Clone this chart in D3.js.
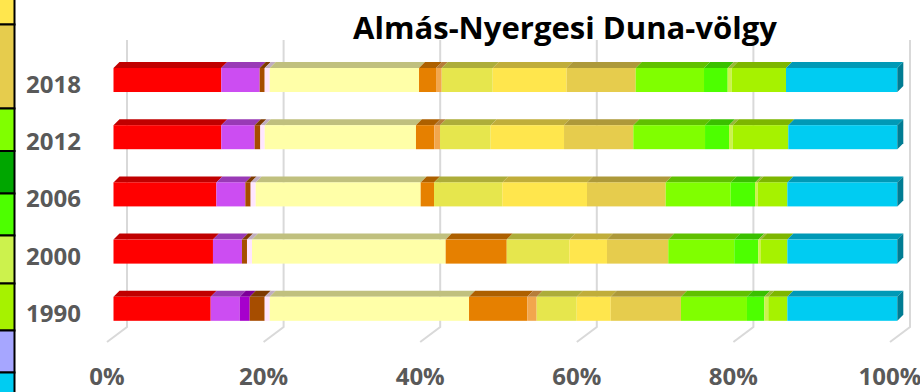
<!DOCTYPE html>
<html><head><meta charset="utf-8">
<script src="https://cdn.jsdelivr.net/npm/d3@7"></script>
<style>html,body{margin:0;padding:0;background:#fff;overflow:hidden}svg{display:block}</style>
</head><body><svg id="c" width="920" height="392"></svg>
<script>
const title = "Almás-Nyergesi Duna-völgy";
const years = ["2018","2012","2006","2000","1990"];
const categories = ["112","121","131","132","142","211","221","222","231","242","243","311","313","321","324","511"];
const colors = ["#FF0000","#CC4DF2","#A600CC","#A64D00","#FFE6FF","#FFFFA8","#E68000","#F2A64D","#E6E64D","#FFE64D","#E6CC4D","#80FF00","#4DFF00","#CCF24D","#A6F200","#00CCF2"];
const v2018 = [13.75,4.90,0,0.64,0.64,19.05,2.17,0.72,6.51,9.44,8.80,8.72,3.02,0.51,6.93,14.20];
const v2012 = [13.75,4.26,0,0.72,0.56,19.30,2.34,0.73,6.46,9.36,8.84,9.15,3.06,0.47,7.09,13.91];
const v2006 = [13.12,3.70,0,0.68,0.64,21.05,1.70,0,8.71,10.81,10.04,8.29,3.11,0.34,3.78,14.03];
const v2000 = [12.69,3.70,0,0.64,0.64,24.71,7.79,0,7.98,4.81,7.82,8.42,3.07,0.34,3.36,14.03];
const v1990 = [12.40,3.70,1.28,1.91,0.64,25.43,7.43,1.20,5.11,4.34,8.96,8.42,2.21,0.51,2.43,14.03];
const tickValues = [0,0.2,0.4,0.6,0.8,1];
const legendColors = ["#FFE64D","#E6CC4D","#80FF00","#00A600","#4DFF00","#CCF24D","#A6F200","#A6A6FF","#00CCF2"];

const valuesByYear = {"2018":v2018,"2012":v2012,"2006":v2006,"2000":v2000,"1990":v1990};
const table = years.map(y => {
  const o = {year:y};
  categories.forEach((c,i)=> o[c] = valuesByYear[y][i]);
  return o;
});
const stacked = d3.stack().keys(categories).offset(d3.stackOffsetExpand)(table);

const svg = d3.select("#c");
const W = 920, H = 392;

// layout
const x = d3.scaleLinear().domain([0,1]).range([113.5, 897.3]);      // bar front faces
const xBack = d3.scaleLinear().domain([0,1]).range([127, 910]);      // back wall
const xFloor = d3.scaleLinear().domain([0,1]).range([107, 890]);     // floor front edge
const y = d3.scaleBand().domain(years).range([51.4, 337.4]).paddingInner(0.58).paddingOuter(0.29);
const dx = 6, dy = -6;
const color = d3.scaleOrdinal().domain(categories).range(colors);

// legend strip (clipped legend at left edge)
const legendEdges = [-20, 24.5, 108.5, 151, 193.5, 235.5, 283.5, 330.5, 372.5, 420];
svg.append("g").selectAll("rect").data(legendColors).join("rect")
  .attr("x", -10).attr("width", 24.5)
  .attr("y", (d,i)=>legendEdges[i]).attr("height",(d,i)=>legendEdges[i+1]-legendEdges[i])
  .attr("fill", d=>d).attr("stroke","#000").attr("stroke-width",2);

// gridlines
const grid = svg.append("g");
grid.selectAll("path").data(tickValues).join("path")
  .attr("d", t => `M${xBack(t)},40 L${xBack(t)},327 L${xFloor(t)},342`)
  .attr("fill","none").attr("stroke","#D9D9D9").attr("stroke-width",2);

// bars
const bars = svg.append("g");
stacked.forEach((layer, li) => {
  const base = d3.color(color(layer.key));
  const top = base.darker(0.8).formatHex();
  const side = base.darker(1.4).formatHex();
  layer.forEach(d => {
    const yr = d.data.year;
    const x0 = x(d[0]), x1 = x(d[1]);
    if (x1 - x0 <= 0.01) return;
    const yt = y(yr), h = y.bandwidth();
    bars.append("path")
      .attr("d", `M${x0},${yt} L${x1},${yt} L${x1+dx},${yt+dy} L${x0+dx},${yt+dy} Z`)
      .attr("fill", top);
    bars.append("rect").attr("x", x0).attr("y", yt).attr("width", x1-x0).attr("height", h)
      .attr("fill", base.formatHex());
    if (li === stacked.length-1) {
      bars.append("path")
        .attr("d", `M${x1},${yt} L${x1+dx},${yt+dy} L${x1+dx},${yt+h+dy} L${x1},${yt+h} Z`)
        .attr("fill", side);
    }
  });
});

// y labels
svg.append("g").selectAll("text").data(years).join("text")
  .attr("x", 81).attr("y", d => y(d) + y.bandwidth()/2 + 13)
  .attr("text-anchor","end")
  .attr("font-family","'Open Sans', sans-serif").attr("font-weight","bold").attr("font-size",24)
  .attr("fill","#595959").text(d=>d);

// x labels
svg.append("g").selectAll("text").data(tickValues).join("text")
  .attr("x", d => xFloor(d)).attr("y", 385)
  .attr("text-anchor","middle")
  .attr("font-family","'Open Sans', sans-serif").attr("font-weight","bold").attr("font-size",24)
  .attr("fill","#595959").text(d => d3.format(".0%")(d));

// title
const t = svg.append("text").attr("x", 565).attr("y", 39).attr("text-anchor","middle")
  .attr("font-family","'Open Sans', sans-serif").attr("font-weight","bold").attr("font-size",31)
  .attr("fill","#000").text(title);
const tw = t.node().getComputedTextLength();
t.attr("font-size", 31 * 424 / tw);
</script></body></html>
